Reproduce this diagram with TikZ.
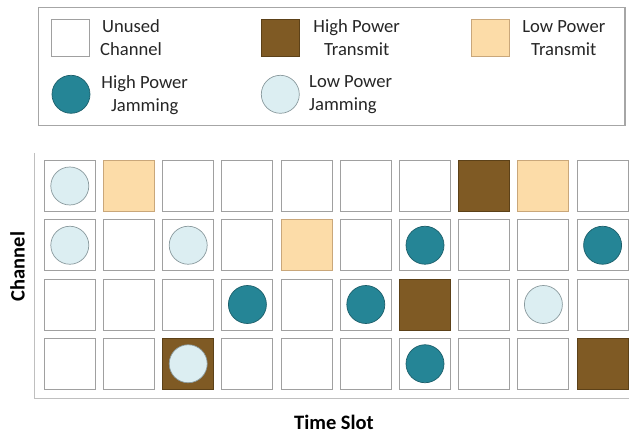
\documentclass[tikz,border=0pt]{standalone}
\usepackage{fontspec}
\setmainfont{Carlito}
\definecolor{hitx}{HTML}{7F5A24}
\definecolor{hitxline}{HTML}{5C4118}
\definecolor{lotx}{HTML}{FCDCA8}
\definecolor{lotxline}{HTML}{C9A77A}
\definecolor{hijam}{HTML}{258596}
\definecolor{hijamline}{HTML}{1C5F6B}
\definecolor{lojam}{HTML}{DCEEF2}
\definecolor{lojamline}{HTML}{8A9A9E}
\definecolor{cellline}{HTML}{A0A0A0}
\definecolor{axisline}{HTML}{BFBFBF}
\definecolor{frameline}{HTML}{A6A6A6}
\tikzset{
  cell/.style={draw=cellline, line width=0.9pt, fill=white, minimum size=51pt, inner sep=0pt},
  legcell/.style={draw=cellline, line width=0.9pt, fill=white, minimum width=38pt, minimum height=37pt, inner sep=0pt},
  hitxcell/.style={fill=hitx, draw=hitxline},
  lotxcell/.style={fill=lotx, draw=lotxline},
  jamdot/.style={circle, minimum size=38pt, inner sep=0pt, line width=0.7pt},
  hijamdot/.style={jamdot, fill=hijam, draw=hijamline},
  lojamdot/.style={jamdot, fill=lojam, draw=lojamline},
  legtext/.style={font=\fontsize{18.6}{23}\selectfont, align=center, inner sep=0pt, text=black!85},
  axislabel/.style={font=\fontsize{20.5}{24}\selectfont\bfseries, inner sep=0pt}
}
\begin{document}
\begin{tikzpicture}[x=1pt, y=-1pt]
\useasboundingbox (0,0) rectangle (629,435);

% legend frame
\draw[frameline, line width=1.3pt] (38.3,7.5) rectangle (625,125.3);

% legend entries
\node[legcell] (lgunused) at (70.5,37.5) {};
\node[legtext, anchor=center] (tunused) at (131,38) {Unused\\Channel};
\node[legcell, hitxcell] (lghitx) at (280,37.5) {};
\node[legtext] (thitx) at (356.7,38) {High Power\\Transmit};
\node[legcell, lotxcell] (lglotx) at (490,37.5) {};
\node[legtext] (tlotx) at (563.8,38) {Low Power\\Transmit};
\node[hijamdot] (lghijam) at (71,94.3) {};
\node[legtext] (thijam) at (144.7,94.7) {High Power\\Jamming};
\node[lojamdot] (lglojam) at (280.3,94.3) {};
\node[legtext, align=left, anchor=west] (tlojam) at (309,94.7) {Low Power\\Jamming};

% axes
\coordinate (axtop) at (34.5,153);
\coordinate (axcorner) at (34.5,398.3);
\coordinate (axright) at (629,398.3);
\draw[axisline, line width=1.4pt] (axtop) -- (axcorner) -- (axright);
\node[axislabel, rotate=90] (chlabel) at (17.5,266.5) {Channel};
\node[axislabel] (tslabel) at (334,422) {Time Slot};

% channel / time-slot grid
\foreach \r in {1,...,4}{
  \foreach \c in {1,...,10}{
    \node[cell] (g-\r-\c) at ({69.8+59.2*(\c-1)},{186+59.25*(\r-1)}) {};
  }
}

% transmissions
\foreach \r/\c in {1/8, 3/7, 4/3, 4/10}{
  \node[cell, hitxcell] (tx-\r-\c) at (g-\r-\c) {};
}
\foreach \r/\c in {1/2, 1/9, 2/5}{
  \node[cell, lotxcell] (tx-\r-\c) at (g-\r-\c) {};
}

% jamming
\foreach \r/\c in {2/7, 2/10, 3/4, 3/6, 4/7}{
  \node[hijamdot] (jam-\r-\c) at (g-\r-\c) {};
}
\foreach \r/\c in {1/1, 2/1, 2/3, 3/9, 4/3}{
  \node[lojamdot] (jam-\r-\c) at (g-\r-\c) {};
}
\end{tikzpicture}
\end{document}
